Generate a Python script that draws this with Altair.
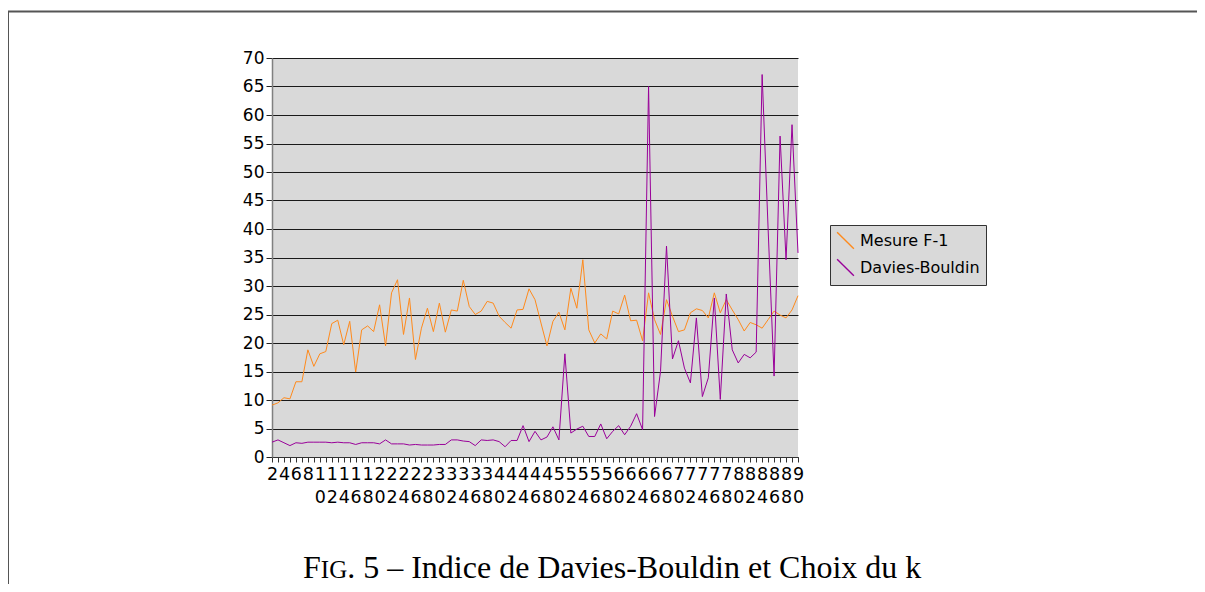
import altair as alt
import pandas as pd

k_values = list(range(2, 91))

f1_values = [9.1, 9.5, 10.4, 10.2, 13.2, 13.2, 18.8, 15.9, 18.1, 18.5,
             23.4, 24.0, 19.7, 23.8, 14.9, 22.3, 23.0, 22.0, 26.7, 19.5,
             28.8, 31.1, 21.5, 27.9, 17.1, 22.6, 26.1, 22.0, 27.0, 21.9,
             25.8, 25.6, 31.0, 26.4, 25.0, 25.6, 27.3, 27.0, 24.7, 23.6,
             22.6, 25.8, 25.9, 29.5, 27.6, 23.5, 19.5, 23.8, 25.4, 22.3,
             29.6, 26.1, 34.6, 22.3, 20.0, 21.6, 20.7, 25.6, 25.1, 28.4,
             23.9, 24.0, 20.4, 28.8, 24.1, 21.5, 27.6, 24.7, 22.0, 22.3,
             25.3, 26.0, 25.7, 24.4, 28.8, 25.3, 27.6, 25.8, 24.1, 22.1,
             23.6, 23.2, 22.6, 24.1, 25.6, 24.9, 24.4, 25.8, 28.3]

db_values = [2.6, 3.0, 2.5, 2.0, 2.5, 2.4, 2.6, 2.6, 2.6, 2.6,
             2.5, 2.6, 2.5, 2.5, 2.2, 2.5, 2.5, 2.5, 2.3, 3.0,
             2.3, 2.3, 2.3, 2.1, 2.2, 2.1, 2.1, 2.1, 2.2, 2.2,
             3.0, 3.0, 2.8, 2.7, 2.0, 3.0, 2.9, 3.0, 2.7, 1.8,
             2.9, 2.9, 5.5, 2.7, 4.5, 3.0, 3.5, 5.3, 3.0, 18.1,
             4.2, 4.9, 5.4, 3.6, 3.6, 5.8, 3.2, 4.5, 5.5, 3.9,
             5.4, 7.6, 4.8, 65.0, 7.1, 15.0, 37.0, 17.2, 20.4, 15.6,
             13.0, 24.4, 10.6, 13.9, 27.9, 10.1, 28.6, 18.8, 16.5, 18.0,
             17.4, 18.4, 67.1, 40.0, 14.2, 56.3, 34.6, 58.3, 35.8]

series_names = ["Mesure F-1", "Davies-Bouldin"]
series_colors = ["#ff8a1c", "#990099"]
y_ticks = list(range(0, 75, 5))

caption_parts = ["F", "IG", ". 5 – Indice de Davies-Bouldin et Choix du k"]

df = pd.DataFrame({
    "k": k_values * 2,
    "value": f1_values + db_values,
    "series": [series_names[0]] * len(k_values) + [series_names[1]] * len(k_values),
})

W, H = 526, 399
PAD_L, PAD_T = 264, 50
PAD_R = 1189 - PAD_L - W
PAD_B = 576 - PAD_T - H

lines = alt.Chart(df).mark_line(strokeWidth=1).encode(
    x=alt.X("k:Q",
            scale=alt.Scale(domain=[2, 90], nice=False, zero=False),
            axis=alt.Axis(values=k_values, title=None, grid=False,
                          labelExpr="datum.value % 2 == 0 ? split(datum.label, '') : ''",
                          labelOverlap=False, labelFlush=False, labelBound=False,
                          labelFont="DejaVu Sans", labelFontSize=17.5, labelColor="#000",
                          labelLineHeight=23, labelPadding=3,
                          tickSize=5, tickColor="#333", domainColor="#333")),
    y=alt.Y("value:Q",
            scale=alt.Scale(domain=[0, 70], nice=False),
            axis=alt.Axis(values=y_ticks, title=None, grid=True, gridColor="#1a1a1a",
                          gridOpacity=1, gridWidth=1,
                          labelFont="DejaVu Sans", labelFontSize=17, labelColor="#000",
                          labelPadding=2, tickSize=6, tickColor="#222",
                          domainColor="#808080", domainWidth=1.5)),
    color=alt.Color("series:N",
                    scale=alt.Scale(domain=series_names, range=series_colors),
                    legend=alt.Legend(title=None, orient="none", legendX=558, legendY=167,
                                      fillColor="#d9d9d9", strokeColor="#333",
                                      padding=6, rowPadding=4,
                                      symbolType="M-1,-1L1,1", symbolSize=280,
                                      symbolStrokeWidth=1.4,
                                      symbolStrokeColor={"expr": "scale('color', datum.value)"},
                                      labelFont="DejaVu Sans", labelFontSize=16,
                                      labelColor="#000", labelOffset=5)),
)

one = pd.DataFrame({"a": [0]})

top_frame = alt.Chart(one).mark_rule(color="#555", strokeWidth=2).encode(
    x=alt.value(-PAD_L), x2=alt.value(W + PAD_R), y=alt.value(PAD_T * -1 + 3.5))
left_frame = alt.Chart(one).mark_rule(color="#555", strokeWidth=1).encode(
    x=alt.value(-PAD_L + 0.5), y=alt.value(-PAD_T + 3), y2=alt.value(H + PAD_B))

cap_y = 520
cap1 = alt.Chart(pd.DataFrame({"t": [caption_parts[0]]})).mark_text(
    font="Liberation Serif", fontSize=32, align="left", baseline="alphabetic", color="#000"
).encode(text="t:N", x=alt.value(31), y=alt.value(cap_y))
cap2 = alt.Chart(pd.DataFrame({"t": [caption_parts[1]]})).mark_text(
    font="Liberation Serif", fontSize=25, align="left", baseline="alphabetic", color="#000"
).encode(text="t:N", x=alt.value(31 + 17.8), y=alt.value(cap_y))
cap3 = alt.Chart(pd.DataFrame({"t": [caption_parts[2]]})).mark_text(
    font="Liberation Serif", fontSize=32, align="left", baseline="alphabetic", color="#000"
).encode(text="t:N", x=alt.value(31 + 17.8 + 26.4), y=alt.value(cap_y))

chart = alt.layer(lines, top_frame, left_frame, cap1, cap2, cap3).properties(
    width=W, height=H,
    autosize=alt.AutoSizeParams(type="none"),
    padding={"left": PAD_L, "top": PAD_T, "right": PAD_R, "bottom": PAD_B},
    background="white",
).configure_view(fill="#d9d9d9", stroke=None)

chart.save("out.html", embed_options={"renderer": "svg", "actions": False})
